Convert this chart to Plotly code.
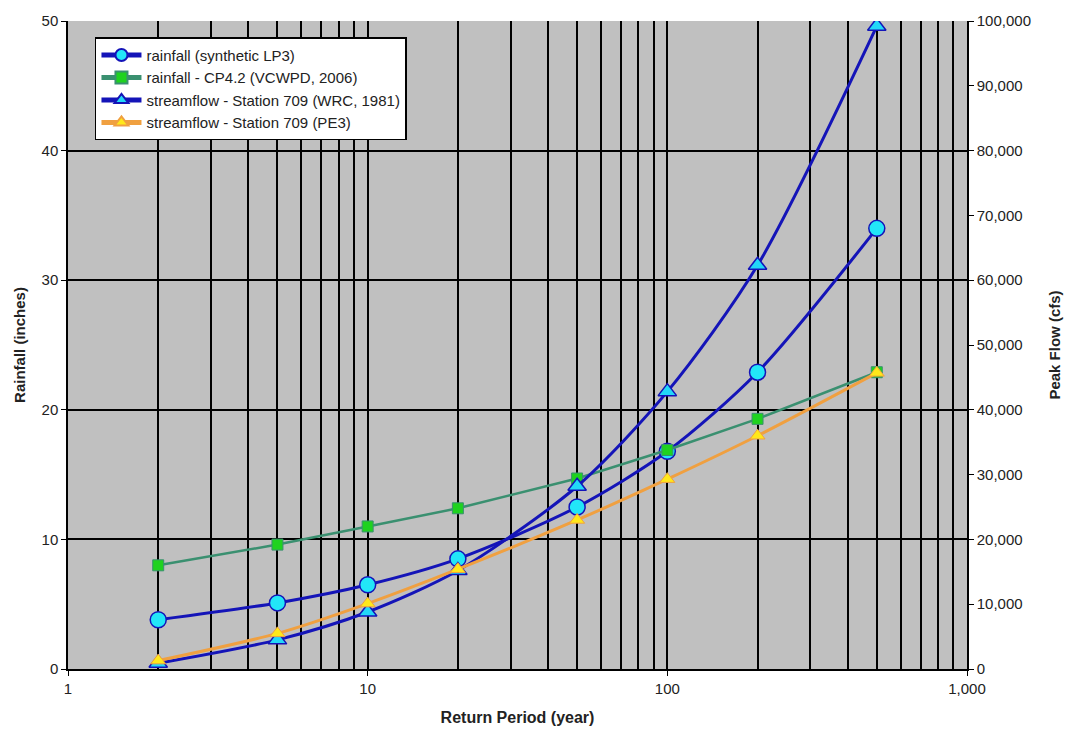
import plotly.graph_objects as go

# Return periods (years)
return_period = [2, 5, 10, 20, 50, 100, 200, 500]

# Rainfall depths (inches), left axis
rain_lp3 = [3.8, 5.1, 6.5, 8.5, 12.5, 16.8, 22.9, 34.0]
rain_cp42 = [8.0, 9.6, 11.0, 12.4, 14.7, 16.9, 19.3, 22.9]

# Peak flows (cfs), right axis
flow_wrc = [900, 4500, 8800, 15200, 28200, 42800, 62300, 99200]
flow_pe3 = [1300, 5500, 10100, 15400, 23000, 29300, 36000, 45700]

x_major = [1, 10, 100, 1000]
x_major_text = ["1", "10", "100", "1,000"]
x_minor = [m * d for d in (1, 10, 100) for m in range(2, 10)]

BLUE = "#1414B8"
font = "Liberation Sans, Arial, sans-serif"

fig = go.Figure()

fig.add_trace(go.Scatter(
    x=return_period, y=rain_lp3, name="rainfall (synthetic LP3)",
    mode="lines+markers", line=dict(color=BLUE, width=3, shape="spline", smoothing=0.8),
    marker=dict(symbol="circle", size=16, color="#22E6F8", line=dict(color=BLUE, width=1.5)),
))
fig.add_trace(go.Scatter(
    x=return_period, y=rain_cp42, name="rainfall - CP4.2 (VCWPD, 2006)",
    mode="lines+markers", line=dict(color="#3A9070", width=2.5),
    marker=dict(symbol="square", size=11, color="#1FD21F", line=dict(color="#3A9070", width=1)),
))
fig.add_trace(go.Scatter(
    x=return_period, y=flow_wrc, name="streamflow - Station 709 (WRC, 1981)", yaxis="y2",
    mode="lines+markers", line=dict(color=BLUE, width=3, shape="spline", smoothing=0.8),
    marker=dict(symbol="triangle-up", size=16, color="#22D8F8", line=dict(color=BLUE, width=1.5)),
))
fig.add_trace(go.Scatter(
    x=return_period, y=flow_pe3, name="streamflow - Station 709 (PE3)", yaxis="y2",
    mode="lines+markers", line=dict(color="#F0A040", width=3, shape="spline", smoothing=0.8),
    marker=dict(symbol="triangle-up", size=13, color="#FFE81A", line=dict(color="#F0A040", width=1)),
))

fig.update_layout(
    width=1077, height=738,
    margin=dict(l=68, r=110, t=17, b=69),
    paper_bgcolor="white", plot_bgcolor="#C0C0C0",
    font=dict(family=font, size=15, color="#222222"),
    showlegend=True,
    legend=dict(
        x=0.03, y=0.975, xanchor="left", yanchor="top",
        bgcolor="white", bordercolor="black", borderwidth=1.5,
        font=dict(size=15, color="#222222"), tracegroupgap=0,
        itemwidth=40, itemsizing="constant",
    ),
    xaxis=dict(
        type="log", range=[0, 3],
        tickvals=x_major, ticktext=x_major_text,
        showgrid=True, gridcolor="black", gridwidth=1.5,
        minor=dict(tickvals=x_minor, showgrid=True, gridcolor="black", gridwidth=1.5, ticks=""),
        showline=True, linecolor="black", linewidth=1.5,
        ticks="outside", ticklen=5, tickcolor="black",
        title=dict(text="<b>Return Period (year)</b>", font=dict(size=16), standoff=16),
        zeroline=False,
    ),
    yaxis=dict(
        range=[0, 50], dtick=10,
        showgrid=True, gridcolor="black", gridwidth=1.5,
        showline=True, linecolor="black", linewidth=1.5,
        ticks="outside", ticklen=5, tickcolor="black",
        title=dict(text="<b>Rainfall (inches)</b>", font=dict(size=15), standoff=12),
        zeroline=False,
    ),
    yaxis2=dict(
        range=[0, 100000], dtick=10000, tickformat=",",
        overlaying="y", side="right", showgrid=False,
        showline=True, linecolor="black", linewidth=1.5,
        ticks="outside", ticklen=5, tickcolor="black",
        title=dict(text="<b>Peak Flow (cfs)</b>", font=dict(size=15), standoff=20),
        zeroline=False,
    ),
)

fig.write_html("out.html")
